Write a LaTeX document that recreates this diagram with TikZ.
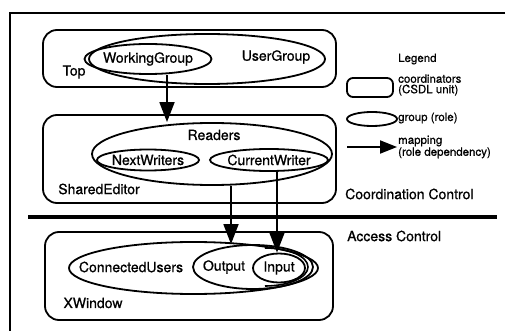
\documentclass[tikz,border=0pt]{standalone}
\usepackage{fontspec}
\setmainfont{TeX Gyre Heros}[FakeBold=0.8]
\usetikzlibrary{shapes.geometric,arrows.meta}
\begin{document}
\begin{tikzpicture}[x=1pt,y=-1pt,
  unitbox/.style={draw,line width=1.8pt,rounded corners=14pt,inner sep=0pt},
  grp/.style={draw,ellipse,line width=1.8pt,inner sep=0pt},
  ringline/.style={line width=1.6pt},
  lbl/.style={font=\fontsize{14}{13}\selectfont,inner sep=0pt},
  lgd/.style={font=\fontsize{11.5}{10.5}\selectfont,inner sep=0pt,anchor=west,align=left},
  map/.style={line width=1.8pt,-{Triangle[length=20pt,width=15pt]}},
  lgmap/.style={line width=1.8pt,-{Triangle[length=17pt,width=13pt]}},
  frameline/.style={line width=1.4pt},
  sepline/.style={line width=3.5pt}]
\useasboundingbox (0,0) rectangle (511,331);
% outer frame
\coordinate (fTR) at (505,13);
\coordinate (fTL) at (10,13);
\coordinate (fBL) at (10,331);
\draw[frameline] (fTR) -- (fTL) -- (fBL);
% Top unit
\node[unitbox,minimum width=293pt,minimum height=57pt] (top) at (189.5,58.5) {};
\node[grp,minimum width=236pt,minimum height=50pt] (usergroup) at (207,59) {};
\node[grp,minimum width=98pt,minimum height=30pt,lbl] (wg) at (148,59) {WorkingGroup};
\node[lbl] (ugt) at (276,57) {UserGroup};
\node[lbl] (topt) at (74,72) {Top};
% SharedEditor unit
\node[unitbox,minimum width=293pt,minimum height=88pt] (shared) at (189.5,159) {};
\node[grp,minimum width=240pt,minimum height=62pt] (readers) at (212,154) {};
\node[lbl] (readerst) at (214,135) {Readers};
\node[grp,minimum width=98pt,minimum height=21pt,lbl] (nw) at (148,160) {NextWriters};
\node[grp,minimum width=118pt,minimum height=22pt,lbl] (cw) at (269,160) {CurrentWriter};
\node[lbl] (sharedt) at (99,189) {SharedEditor};
% separator
\coordinate (sepL) at (28,217);
\coordinate (sepR) at (497,217);
\draw[sepline] (sepL) -- (sepR);
\node[lbl,anchor=west] (cc) at (345,194) {Coordination Control};
\node[lbl,anchor=west] (ac) at (347,236) {Access Control};
% XWindow unit
\node[unitbox,minimum width=288pt,minimum height=88pt] (xwin) at (189,276) {};
\node[grp,minimum width=249pt,minimum height=52pt] (cu) at (193.5,268) {};
\node[grp,minimum width=120pt,minimum height=44pt] (output) at (253,267) {};
\node[grp,minimum width=52pt,minimum height=29pt,lbl] (input) at (279,268) {Input};
\draw[ringline] (265,248) arc[start angle=-90,end angle=90,x radius=43,y radius=19];
\node[lbl] (cut) at (131,267) {ConnectedUsers};
\node[lbl] (outt) at (224,267) {Output};
\node[lbl] (xwt) at (93,303) {XWindow};
% mappings
\draw[map] (167,0 |- wg.south) -- (167,0 |- readers.north);
\draw[map] (231,0 |- readers.south) -- (231,0 |- output.north);
\draw[map] (277,0 |- cw.south) -- (277,0 |- input.north);
% legend
\node[lgd] (legend) at (398,59) {Legend};
\node[draw,line width=1.8pt,rounded corners=6pt,minimum width=46pt,minimum height=19pt] (lgbox) at (370,87.5) {};
\node[lgd] (lgboxt) at (398,85) {coordinators\\(CSDL unit)};
\node[grp,minimum width=50pt,minimum height=14pt] (lgell) at (372,119) {};
\node[lgd] (lgellt) at (398,118) {group (role)};
\coordinate (lgA) at (347,147);
\coordinate (lgB) at (397,147);
\draw[lgmap] (lgA) -- (lgB);
\node[lgd] (lgmapt) at (398,147) {mapping\\(role dependency)};
\end{tikzpicture}
\end{document}
